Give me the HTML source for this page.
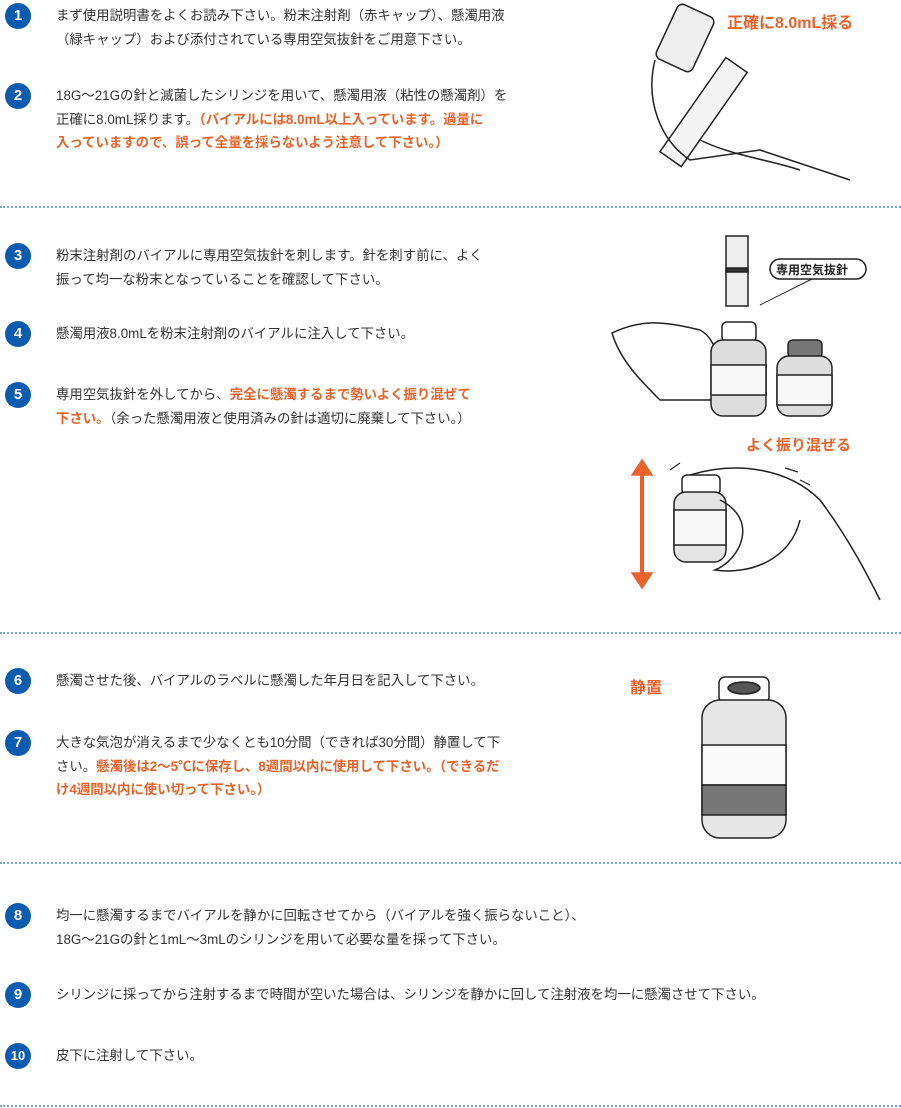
<!DOCTYPE html>
<html><head><meta charset="utf-8"><style>
body{margin:0;width:901px;height:1108px;background:#fff;position:relative;overflow:hidden;font-family:"Liberation Sans","Noto Sans CJK JP",sans-serif;}
.b{position:absolute;left:5px;width:26px;height:26px;border-radius:50%;background:#0b5bb0;color:#fff;font-weight:bold;font-size:15px;line-height:26px;text-align:center;}
.t{position:absolute;left:56px;font-size:13.4px;line-height:23.5px;color:#333;white-space:nowrap;}
.o{color:#e8622a;font-weight:bold;}
.sep{position:absolute;left:0;width:901px;border-top:2px dotted #7aa3cf;}
.lbl{position:absolute;color:#e8622a;font-weight:bold;font-size:16px;}
svg{position:absolute;}
</style></head><body>
<div class="b" style="top:3px">1</div>
<div class="t" style="top:4px">まず使用説明書をよくお読み下さい。粉末注射剤（赤キャップ）、懸濁用液<br>（緑キャップ）および添付されている専用空気抜針をご用意下さい。</div>
<div class="b" style="top:83px">2</div>
<div class="t" style="top:84px">18G～21Gの針と滅菌したシリンジを用いて、懸濁用液（粘性の懸濁剤）を<br>正確に8.0mL採ります。<span class="o">（バイアルには8.0mL以上入っています。過量に<br>入っていますので、誤って全量を採らないよう注意して下さい。）</span></div>
<div class="sep" style="top:206px"></div>
<div class="b" style="top:243px">3</div>
<div class="t" style="top:244px">粉末注射剤のバイアルに専用空気抜針を刺します。針を刺す前に、よく<br>振って均一な粉末となっていることを確認して下さい。</div>
<div class="b" style="top:321px">4</div>
<div class="t" style="top:322px">懸濁用液8.0mLを粉末注射剤のバイアルに注入して下さい。</div>
<div class="b" style="top:382px">5</div>
<div class="t" style="top:383px">専用空気抜針を外してから、<span class="o">完全に懸濁するまで勢いよく振り混ぜて<br>下さい。</span>（余った懸濁用液と使用済みの針は適切に廃棄して下さい。）</div>
<div class="sep" style="top:632px"></div>
<div class="b" style="top:668px">6</div>
<div class="t" style="top:669px">懸濁させた後、バイアルのラベルに懸濁した年月日を記入して下さい。</div>
<div class="b" style="top:730px">7</div>
<div class="t" style="top:731px">大きな気泡が消えるまで少なくとも10分間（できれば30分間）静置して下<br>さい。<span class="o">懸濁後は2～5℃に保存し、8週間以内に使用して下さい。（できるだ<br>け4週間以内に使い切って下さい。）</span></div>
<div class="sep" style="top:862px"></div>
<div class="b" style="top:903px">8</div>
<div class="t" style="top:904px">均一に懸濁するまでバイアルを静かに回転させてから（バイアルを強く振らないこと）、<br>18G～21Gの針と1mL～3mLのシリンジを用いて必要な量を採って下さい。</div>
<div class="b" style="top:982px">9</div>
<div class="t" style="top:983px">シリンジに採ってから注射するまで時間が空いた場合は、シリンジを静かに回して注射液を均一に懸濁させて下さい。</div>
<div class="b" style="top:1043px;font-size:13px">10</div>
<div class="t" style="top:1044px">皮下に注射して下さい。</div>
<div class="sep" style="top:1105px"></div>

<div class="lbl" style="left:727px;top:9px">正確に8.0mL採る</div>
<div class="lbl" style="left:746px;top:434px;font-size:15px">よく振り混ぜる</div>
<div class="lbl" style="left:630px;top:674px">静置</div>

<svg width="901" height="1108" style="left:0;top:0" fill="none" stroke="#222" stroke-width="1.5">
<rect x="665" y="8" width="40" height="60" rx="6" fill="#eee" transform="rotate(25 685 38)"/>
<rect x="692" y="55" width="26" height="115" fill="#f4f4f4" transform="rotate(35 705 110)"/>
<path d="M655 60 C645 100 660 140 690 160 L760 150 L850 180" />
<path d="M700 140 C730 155 770 160 800 170"/>
<rect x="726" y="236" width="22" height="70" fill="#eee"/>
<rect x="726" y="268" width="22" height="4" fill="#333"/>
<line x1="760" y1="305" x2="818" y2="276" stroke-width="1"/>
<rect x="770" y="259" width="96" height="20" rx="10" fill="#fff"/>
<path d="M612 333 C640 320 660 320 700 330 C720 340 725 380 710 400 L660 400 C640 380 620 360 612 333Z" fill="#fff"/>
<rect x="722" y="322" width="34" height="20" rx="5" fill="#fff"/>
<rect x="711" y="340" width="55" height="76" rx="12" fill="#ddd"/>
<rect x="711" y="365" width="55" height="30" fill="#f8f8f8"/>
<rect x="788" y="340" width="34" height="18" rx="5" fill="#777"/>
<rect x="777" y="356" width="55" height="60" rx="12" fill="#ddd"/>
<rect x="777" y="375" width="55" height="30" fill="#f8f8f8"/>
<line x1="642" y1="470" x2="642" y2="578" stroke="#e8622a" stroke-width="4"/>
<path d="M632 475 L642 460 L652 475Z M632 573 L642 588 L652 573Z" fill="#e8622a" stroke="#e8622a"/>
<rect x="682" y="475" width="38" height="20" rx="5" fill="#fff"/>
<rect x="674" y="492" width="52" height="70" rx="12" fill="#e4e4e4"/>
<rect x="674" y="510" width="52" height="35" fill="#f8f8f8"/>
<path d="M690 475 C740 460 790 470 820 500 C850 540 870 580 880 600 M720 500 C760 520 740 560 715 570 C750 575 790 560 800 520" />
<path d="M670 470 L680 463 M785 468 L798 472 M800 480 L810 485" stroke-width="1.2"/>
<rect x="719" y="677" width="50" height="26" rx="6" fill="#fff"/>
<ellipse cx="744" cy="688" rx="16" ry="6" fill="#555"/>
<rect x="702" y="700" width="84" height="138" rx="18" fill="#e6e6e6"/>
<rect x="702" y="745" width="84" height="40" fill="#fafafa"/>
<rect x="702" y="785" width="84" height="30" fill="#777"/>
</svg>
<div style="position:absolute;left:776px;top:261px;font-size:12px;font-weight:bold;color:#222">専用空気抜針</div>
</body></html>
